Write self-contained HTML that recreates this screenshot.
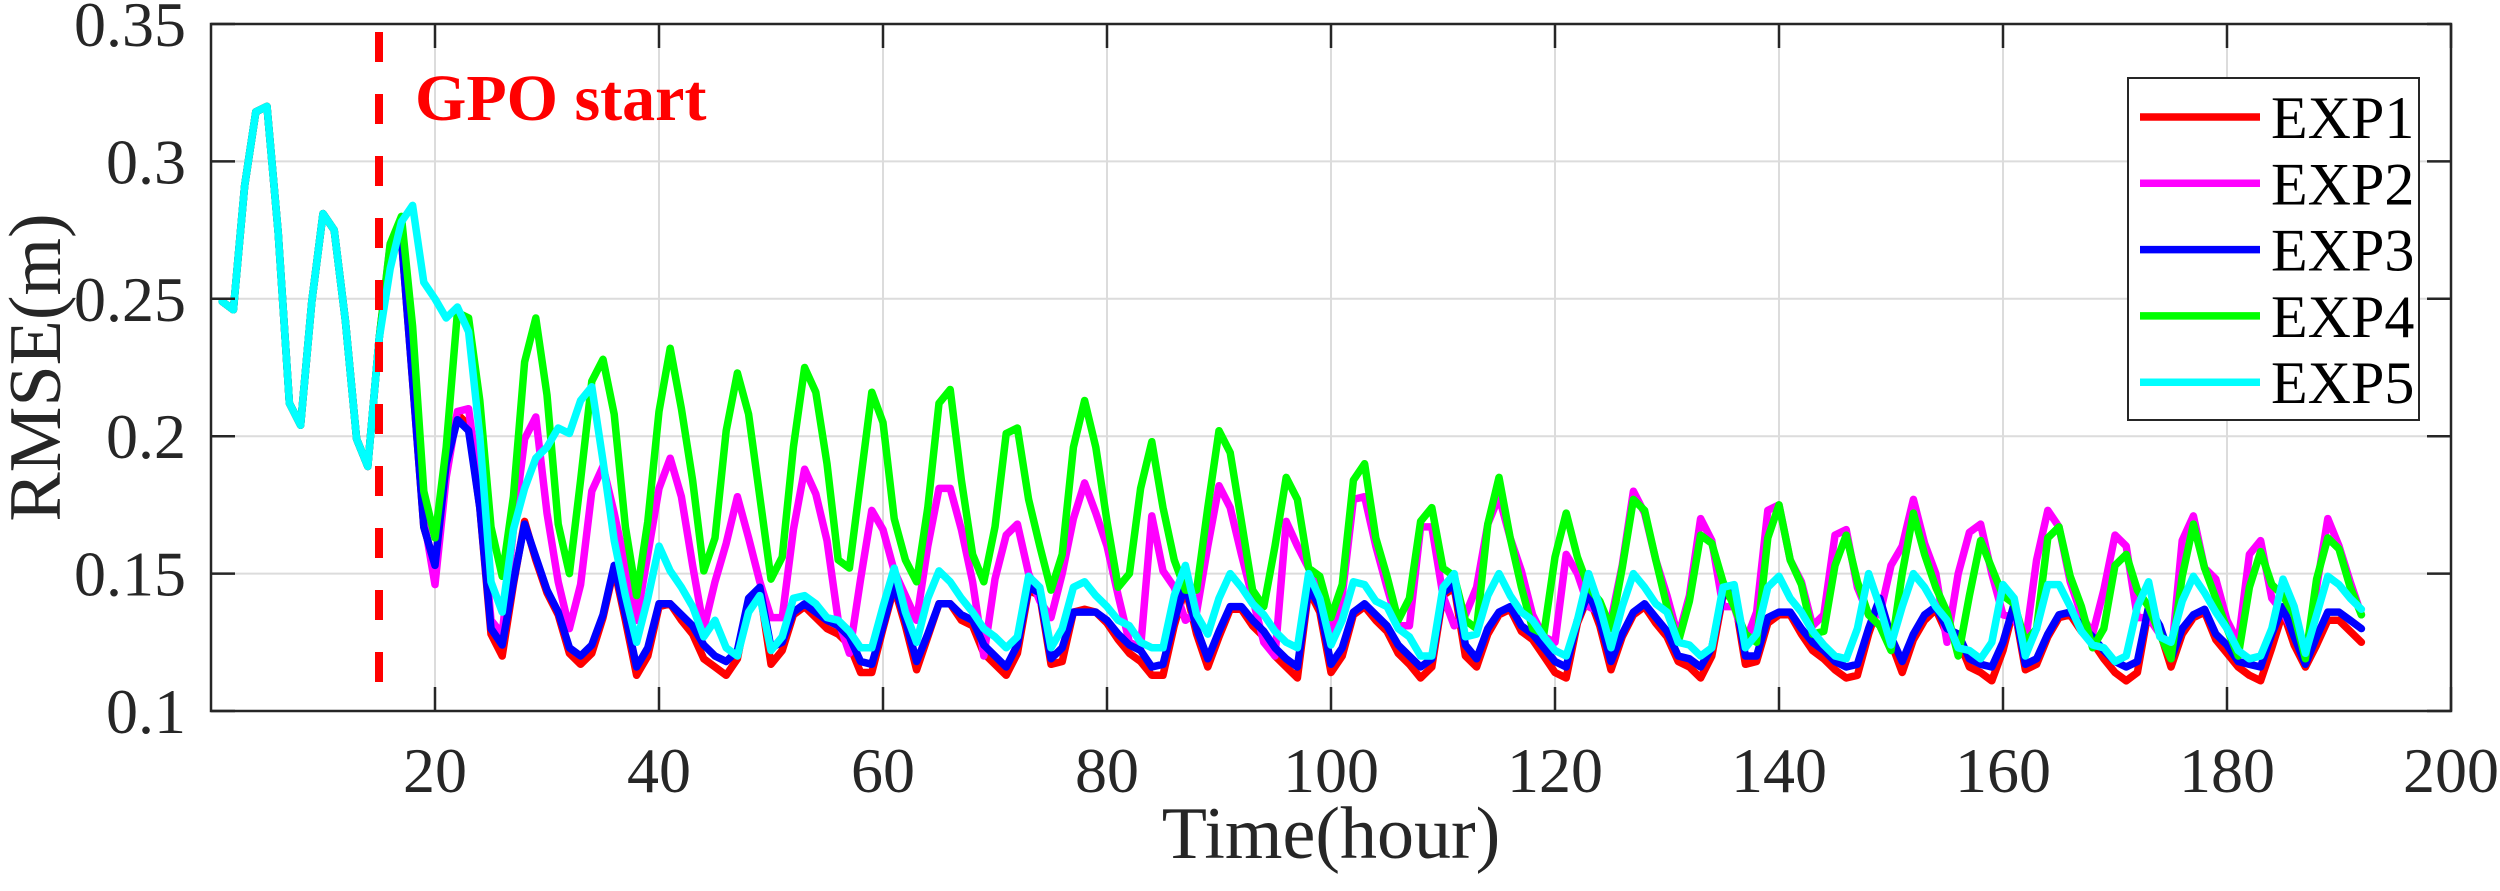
<!DOCTYPE html>
<html><head><meta charset="utf-8"><style>
html,body{margin:0;padding:0;background:#fff;}
svg{display:block;font-family:"Liberation Serif",serif;}
</style></head><body>
<svg id="chart" width="2500" height="891" viewBox="0 0 2500 891" xmlns="http://www.w3.org/2000/svg">
<rect x="0" y="0" width="2500" height="891" fill="#fff"/>
<g id="grid"></g>
<g id="series"></g>
<g id="axes"></g>
<g id="legend"></g>
</svg>
<script>
const xTicks=[20,40,60,80,100,120,140,160,180,200];
const yTicks=[0.1,0.15,0.2,0.25,0.3,0.35];
const yTickLabels=["0.1","0.15","0.2","0.25","0.3","0.35"];
const gpoStart=15;
const preGpo=[0.249,0.246,0.291,0.318,0.320,0.274,0.212,0.204,0.249,0.281,0.275,0.242,0.199,0.189,0.235];
const exp1Post=[0.268,0.272,0.22,0.167,0.153,0.19,0.208,0.204,0.174,0.128,0.120,0.146,0.169,0.155,0.143,
0.135,0.121,0.117,0.121,0.134,0.152,0.133,0.113,0.120,0.138,0.139,0.133,0.128,0.119,0.116,
0.113,0.119,0.140,0.144,0.117,0.122,0.135,0.138,0.134,0.130,0.128,0.124,0.114,0.114,0.130,
0.145,0.131,0.115,0.127,0.139,0.139,0.133,0.131,0.121,0.117,0.113,0.121,0.144,0.142,0.117,
0.118,0.136,0.137,0.136,0.132,0.126,0.121,0.118,0.113,0.113,0.131,0.145,0.128,0.116,0.127,
0.137,0.137,0.131,0.127,0.120,0.116,0.112,0.144,0.136,0.114,0.120,0.135,0.138,0.133,0.129,
0.121,0.117,0.112,0.116,0.142,0.145,0.120,0.116,0.128,0.135,0.137,0.129,0.126,0.120,0.114,
0.112,0.132,0.142,0.131,0.115,0.127,0.135,0.138,0.132,0.127,0.118,0.116,0.112,0.120,0.142,
0.142,0.117,0.118,0.132,0.135,0.135,0.128,0.122,0.119,0.115,0.112,0.113,0.128,0.140,0.125,
0.114,0.126,0.133,0.137,0.128,0.126,0.116,0.114,0.111,0.122,0.138,0.115,0.117,0.127,0.134,
0.135,0.129,0.125,0.119,0.114,0.111,0.114,0.137,0.129,0.116,0.128,0.134,0.136,0.126,0.121,
0.116,0.113,0.111,0.123,0.136,0.124,0.116,0.124,0.133,0.133,0.129,0.125];
const exp3Post=[0.268,0.272,0.22,0.167,0.153,0.19,0.206,0.202,0.174,0.130,0.124,0.147,0.168,0.156,0.144,
0.136,0.123,0.120,0.124,0.135,0.153,0.135,0.116,0.123,0.139,0.139,0.135,0.131,0.124,0.120,
0.118,0.122,0.141,0.145,0.123,0.125,0.136,0.139,0.136,0.133,0.131,0.127,0.118,0.117,0.131,
0.146,0.133,0.118,0.128,0.139,0.139,0.135,0.133,0.124,0.120,0.116,0.124,0.145,0.143,0.119,
0.123,0.136,0.136,0.136,0.133,0.128,0.124,0.122,0.116,0.117,0.133,0.146,0.130,0.119,0.129,
0.138,0.138,0.133,0.129,0.123,0.119,0.116,0.145,0.138,0.117,0.123,0.136,0.139,0.135,0.131,
0.124,0.120,0.116,0.119,0.143,0.146,0.124,0.119,0.130,0.136,0.138,0.131,0.128,0.123,0.118,
0.116,0.133,0.143,0.133,0.118,0.128,0.136,0.139,0.134,0.129,0.120,0.119,0.116,0.123,0.143,
0.143,0.120,0.120,0.134,0.136,0.136,0.130,0.125,0.122,0.118,0.116,0.117,0.130,0.141,0.127,
0.118,0.128,0.135,0.138,0.130,0.128,0.119,0.117,0.116,0.125,0.139,0.117,0.119,0.128,0.135,
0.136,0.131,0.127,0.122,0.118,0.116,0.118,0.138,0.131,0.119,0.130,0.135,0.137,0.128,0.124,
0.118,0.117,0.116,0.128,0.138,0.127,0.117,0.127,0.136,0.136,0.133,0.130];
const exp2Post=[0.270,0.274,0.23,0.17,0.146,0.185,0.209,0.210,0.18,0.133,0.128,0.166,0.199,0.207,0.172,
0.147,0.130,0.146,0.180,0.189,0.172,0.153,0.133,0.157,0.181,0.192,0.178,0.153,0.130,0.147,
0.161,0.178,0.163,0.147,0.134,0.134,0.166,0.188,0.179,0.162,0.133,0.121,
0.148,0.173,0.166,0.151,0.142,0.133,0.160,0.181,0.181,0.166,0.147,0.120,0.148,0.164,0.168,0.150,0.140,0.134,0.150,0.170,
0.183,0.172,0.160,0.142,0.125,0.123,0.171,0.151,0.145,0.133,0.136,0.160,0.182,0.174,0.157,0.141,0.125,0.120,0.169,0.160,
0.152,0.142,0.128,0.142,0.177,0.178,0.160,0.145,0.131,0.131,0.167,0.167,0.142,0.131,0.135,0.145,0.168,0.178,0.163,0.151,
0.135,0.127,0.125,0.157,0.150,0.138,0.136,0.133,0.153,0.180,0.172,0.155,0.142,0.127,0.142,0.170,0.162,0.138,0.138,0.125,0.136,
0.173,0.175,0.155,0.147,0.131,0.135,0.164,0.166,0.145,0.135,0.135,0.153,0.160,0.177,0.161,0.150,0.125,0.150,0.165,0.168,
0.150,0.135,0.134,0.125,0.155,0.173,0.167,0.147,0.135,0.128,0.144,0.164,0.160,0.134,0.134,0.128,0.119,0.162,0.171,0.152,
0.148,0.133,0.125,0.157,0.162,0.141,0.136,0.128,0.119,0.145,0.170,0.160,0.147,0.135];
const exp4Post=[0.27,0.28,0.24,0.18,0.163,0.196,0.245,0.243,0.213,0.167,0.149,0.178,0.227,0.243,0.215,
0.168,0.150,0.184,0.22,0.228,0.208,0.167,0.142,0.169,0.209,0.232,0.21,0.184,0.151,0.163,
0.202,0.223,0.208,0.178,0.148,0.156,0.196,0.225,0.216,0.19,0.155,0.152,
0.184,0.216,0.205,0.170,0.155,0.147,0.174,0.212,0.217,0.184,0.157,0.147,0.167,0.201,0.203,0.177,0.160,0.144,0.157,0.196,
0.213,0.196,0.169,0.145,0.150,0.181,0.198,0.174,0.155,0.144,0.144,0.174,0.202,0.194,0.169,0.144,0.138,0.160,0.185,0.177,
0.152,0.149,0.134,0.146,0.184,0.190,0.163,0.149,0.133,0.141,0.169,0.174,0.152,0.149,0.133,0.130,0.168,0.185,0.163,0.145,
0.130,0.128,0.156,0.172,0.156,0.145,0.140,0.130,0.152,0.177,0.173,0.155,0.138,0.125,0.140,0.164,0.161,0.147,0.138,0.128,0.125,
0.163,0.175,0.155,0.146,0.128,0.129,0.153,0.164,0.147,0.135,0.131,0.122,0.150,0.172,0.157,0.145,0.136,0.120,0.142,0.162,
0.152,0.142,0.139,0.125,0.130,0.163,0.167,0.149,0.138,0.123,0.130,0.153,0.157,0.144,0.138,0.128,0.119,0.149,0.168,0.152,
0.141,0.130,0.120,0.145,0.158,0.146,0.142,0.135,0.119,0.148,0.163,0.159,0.145,0.135];
const exp5Post=[0.261,0.278,0.284,0.256,0.250,0.243,0.247,0.238,0.20,0.147,0.136,0.166,0.181,0.192,0.196,
0.203,0.201,0.213,0.218,0.191,0.162,0.142,0.125,0.141,0.160,0.151,0.145,0.138,0.127,0.133,
0.123,0.120,0.136,0.142,0.122,0.127,0.141,0.142,0.139,0.134,0.133,0.129,
0.123,0.123,0.138,0.152,0.136,0.125,0.141,0.151,0.147,0.141,0.136,0.130,0.127,0.123,0.127,0.149,0.145,0.123,0.130,0.145,
0.147,0.142,0.138,0.133,0.131,0.125,0.123,0.123,0.142,0.153,0.135,0.128,0.141,0.150,0.145,0.139,0.135,0.129,0.125,0.123,
0.150,0.141,0.124,0.133,0.147,0.146,0.140,0.138,0.130,0.127,0.120,0.120,0.145,0.150,0.127,0.128,0.142,0.150,0.142,0.136,
0.133,0.127,0.122,0.120,0.133,0.150,0.138,0.123,0.138,0.150,0.145,0.139,0.136,0.125,0.124,0.120,0.123,0.145,0.146,0.123,0.128,
0.145,0.149,0.141,0.136,0.129,0.124,0.120,0.119,0.130,0.150,0.138,0.124,0.138,0.150,0.145,0.138,0.133,0.123,0.122,0.119,
0.125,0.146,0.141,0.120,0.130,0.146,0.146,0.138,0.129,0.124,0.123,0.118,0.120,0.138,0.147,0.127,0.125,0.140,0.149,0.143,
0.136,0.130,0.122,0.119,0.120,0.130,0.148,0.138,0.121,0.135,0.149,0.146,0.141,0.137];
const seriesNames=["EXP1","EXP2","EXP3","EXP4","EXP5"];
const seriesColors=["#ff0000","#ff00ff","#0000ff","#00ff00","#00ffff"];
const seriesData=[preGpo.concat(exp1Post),preGpo.concat(exp2Post),preGpo.concat(exp3Post),preGpo.concat(exp4Post),preGpo.concat(exp5Post)];

const L=211,R=2451,T=24,B=711,XMIN=0,XMAX=200,YMIN=0.1,YMAX=0.35;
const NS="http://www.w3.org/2000/svg";
function xs(v){return L+(v-XMIN)/(XMAX-XMIN)*(R-L);}
function ys(v){return B-(v-YMIN)/(YMAX-YMIN)*(B-T);}
function mk(tag,attrs,parent){const e=document.createElementNS(NS,tag);for(const k in attrs)e.setAttribute(k,attrs[k]);parent.appendChild(e);return e;}
const grid=document.getElementById('grid'),ser=document.getElementById('series'),axes=document.getElementById('axes'),leg=document.getElementById('legend');

xTicks.forEach(t=>{
  if(t<XMAX){const g=mk('line',{x1:xs(t),x2:xs(t),y1:T,y2:B,stroke:'#dcdcdc','stroke-width':2},grid);
  
  }
  const tk=mk('path',{d:`M${xs(t)},${B}v-24M${xs(t)},${T}v24`,stroke:'#262626','stroke-width':2.5,fill:'none'},axes);
  
  
  const lb=mk('text',{x:xs(t),y:792,'text-anchor':'middle','font-size':64,fill:'#262626'},axes);
  lb.textContent=String(t);
  
  
});
yTicks.forEach((v,i)=>{
  if(v>YMIN&&v<YMAX){const g=mk('line',{x1:L,x2:R,y1:ys(v),y2:ys(v),stroke:'#dcdcdc','stroke-width':2},grid);
  
  }
  const tk=mk('path',{d:`M${L},${ys(v)}h24M${R},${ys(v)}h-24`,stroke:'#262626','stroke-width':2.5,fill:'none'},axes);
  
  
  const lb=mk('text',{x:186,y:ys(v)+22,'text-anchor':'end','font-size':64,fill:'#262626'},axes);
  lb.textContent=yTickLabels[i];
  
  
});

seriesData.forEach((arr,si)=>{
  const pts=arr.map((v,i)=>xs(i+1).toFixed(1)+','+ys(v).toFixed(1)).join(' ');
  const p=mk('polyline',{points:pts,fill:'none',stroke:seriesColors[si],'stroke-width':7.5,'stroke-linejoin':'round','stroke-linecap':'round'},ser);
  
  
});

const gl=mk('line',{x1:xs(gpoStart),x2:xs(gpoStart),y1:32,y2:B,stroke:'#ff0000','stroke-width':8,'stroke-dasharray':'30 32'},ser);


const gt=mk('text',{x:415,y:120,'font-size':66,'font-weight':'bold',fill:'#ff0000'},ser);
gt.textContent='GPO start';



const box=mk('rect',{x:L,y:T,width:R-L,height:B-T,fill:'none',stroke:'#262626','stroke-width':2.5},axes);


const xt=mk('text',{x:(L+R)/2,y:858,'text-anchor':'middle','font-size':74,fill:'#262626'},axes);
xt.textContent='Time(hour)';


const yt=mk('text',{x:0,y:0,'text-anchor':'middle','font-size':74,fill:'#262626',transform:`translate(60,${(T+B)/2}) rotate(-90)`},axes);
yt.textContent='RMSE(m)';



const lb=mk('rect',{x:2128,y:78,width:291,height:342,fill:'#fff',stroke:'#262626','stroke-width':2},leg);


seriesNames.forEach((n,i)=>{
  const cy=117+i*66.3;
  const g=mk('g',{},leg);
  
  
  mk('line',{x1:2140,x2:2260,y1:cy,y2:cy,stroke:seriesColors[i],'stroke-width':7.5},g);
  const t=mk('text',{x:2271,y:cy+21,'font-size':60,fill:'#000'},g);
  t.textContent=n;
});
</script>
</body></html>
